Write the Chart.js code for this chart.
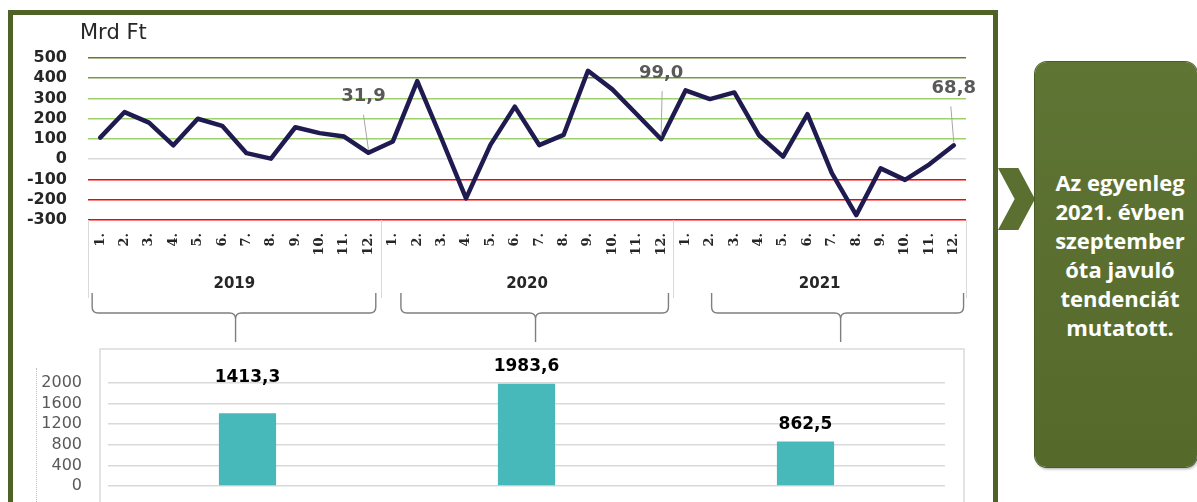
<!DOCTYPE html>
<html lang="hu">
<head>
<meta charset="utf-8">
<script src="https://cdn.jsdelivr.net/npm/chart.js@4.4.1/dist/chart.umd.min.js"></script>
<style>
    html, body { margin: 0; padding: 0; background: #fff; }
    body { width: 1197px; height: 502px; position: relative; overflow: hidden; font-family: 'DejaVu Sans', sans-serif; }
    #frame { position: absolute; left: 8px; top: 10px; width: 980px; height: 520px; border: 5px solid #4F6228; }
    #barBox { position: absolute; left: 99px; top: 348px; width: 862px; height: 200px; border: 2px solid #E3E3E3; }
    #barAxisLine { position: absolute; left: 36px; top: 368px; height: 140px; border-left: 1px dotted #BFBFBF; }
    #monthly { position: absolute; left: 14px; top: 15px; }
    #yearly { position: absolute; left: 14px; top: 345px; }
    #chevron { position: absolute; left: 998px; top: 168px; width: 37px; height: 62px; background: #5B6F30;
        clip-path: polygon(0 0, 55% 0, 100% 50%, 55% 100%, 0 100%, 45% 50%); }
    #note { position: absolute; left: 1035px; top: 62px; width: 162px; height: 405px; border-radius: 12px;
        background: linear-gradient(#5F7534, #55692B); box-shadow: 0 0 0 1px #4A5C25, 1px 2px 3px rgba(0,0,0,0.35); }
    #noteText { position: absolute; left: 1035px; top: 168px; width: 170px; text-align: center; color: #fff;
        font-family: 'Open Sans', sans-serif; font-weight: bold; font-size: 22px; line-height: 29px; }
</style>
</head>
<body>
<div id="frame"></div>
<div id="barBox"></div>
<div id="barAxisLine"></div>
<canvas id="monthly" width="975" height="330"></canvas>
<canvas id="yearly" width="975" height="157"></canvas>
<div id="chevron"></div>
<div id="note"></div>
<div id="noteText">Az egyenleg<br>2021. évben<br>szeptember<br>óta javuló<br>tendenciát<br>mutatott.</div>

<script>
// Data
const months = ['1.', '2.', '3.', '4.', '5.', '6.', '7.', '8.', '9.', '10.', '11.', '12.'];
const years = ['2019', '2020', '2021'];
const balance2019 = [107, 233, 181, 69, 200, 165, 30, 3, 158, 129, 112, 31.9];
const balance2020 = [88, 386, 100, -193, 71, 260, 70, 120, 437, 345, 222, 99.0];
const balance2021 = [340, 297, 330, 120, 13, 223, -69, -276, -45, -102, -25, 68.8];
const yearTotals = [1413.3, 1983.6, 862.5];
const calloutIndexes = [11, 23, 35];

const monthLabels = years.flatMap(() => months);
const balance = [...balance2019, ...balance2020, ...balance2021];

const fmt = v => v.toFixed(1).replace('.', ',');

// Year groups, braces, title and callouts under / on the monthly chart
const monthlyDecor = {
    id: 'monthlyDecor',
    afterDraw(chart, args, opts) {
        const { ctx, chartArea } = chart;
        const x = chart.scales.x;
        ctx.save();

        ctx.fillStyle = '#262626';
        ctx.font = '21px "DejaVu Sans"';
        ctx.textAlign = 'left';
        ctx.textBaseline = 'middle';
        ctx.fillText('Mrd Ft', 66, 19);

        // separators between years
        ctx.strokeStyle = '#D9D9D9';
        ctx.lineWidth = 1;
        for (let g = 0; g <= years.length; g++) {
            const px = Math.round(x.getPixelForValue(g * 12 - 0.5)) + 0.5;
            ctx.beginPath();
            ctx.moveTo(px, chartArea.bottom);
            ctx.lineTo(px, opts.sepBottom);
            ctx.stroke();
        }

        // year names
        ctx.fillStyle = '#262626';
        ctx.font = 'bold 15px "DejaVu Sans"';
        ctx.textAlign = 'center';
        years.forEach((yr, g) => ctx.fillText(yr, x.getPixelForValue(g * 12 + 5.5), opts.yearY));

        // braces
        ctx.strokeStyle = '#7F7F7F';
        ctx.lineWidth = 1.4;
        const r = 6;
        opts.braces.forEach(b => {
            const x1 = x.getPixelForValue(b.from);
            const x2 = x.getPixelForValue(b.to);
            const xm = x.getPixelForValue(b.tip);
            const { top, mid, tip } = opts.braceY;
            ctx.beginPath();
            ctx.moveTo(x1, top);
            ctx.lineTo(x1, mid - r);
            ctx.quadraticCurveTo(x1, mid, x1 + r, mid);
            ctx.lineTo(xm - r, mid);
            ctx.quadraticCurveTo(xm, mid, xm, mid + r);
            ctx.lineTo(xm, tip);
            ctx.moveTo(xm, mid + r);
            ctx.quadraticCurveTo(xm, mid, xm + r, mid);
            ctx.lineTo(x2 - r, mid);
            ctx.quadraticCurveTo(x2, mid, x2, mid - r);
            ctx.lineTo(x2, top);
            ctx.stroke();
        });

        // callouts with leader lines
        const pts = chart.getDatasetMeta(0).data;
        calloutIndexes.forEach((idx, i) => {
            const p = pts[idx];
            const o = opts.callouts[i];
            const tx = p.x + o.dx;
            const ty = p.y + o.dy;
            ctx.strokeStyle = '#A6A6A6';
            ctx.lineWidth = 1;
            ctx.beginPath();
            ctx.moveTo(tx + o.lx, ty + 18);
            ctx.lineTo(p.x, p.y - 3);
            ctx.stroke();
            ctx.fillStyle = '#595959';
            ctx.font = 'bold 18px "DejaVu Sans"';
            ctx.textAlign = 'center';
            ctx.textBaseline = 'middle';
            ctx.fillText(fmt(balance[idx]), tx, ty);
        });

        ctx.restore();
    }
};

function gridColor(ctx) {
    const v = ctx.tick.value;
    if (v < 0) return '#FF0000';
    if (v === 0) return '#D9D9D9';
    if (v === 500) return '#5E7A2E';
    if (v === 400) return '#7A9A45';
    return '#9ED070';
}

new Chart(document.getElementById('monthly'), {
    type: 'line',
    data: {
        labels: monthLabels,
        datasets: [{
            data: balance,
            borderColor: '#1F1A4F',
            borderWidth: 4.5,
            pointRadius: 0,
            tension: 0,
            borderJoinStyle: 'round',
            borderCapStyle: 'round',
            clip: false
        }]
    },
    options: {
        responsive: false,
        animation: false,
        layout: { padding: { top: 43, right: 23, left: 0, bottom: 0 } },
        plugins: {
            legend: { display: false },
            tooltip: { enabled: false },
            monthlyDecor: {
                sepBottom: 283,
                yearY: 269,
                braceY: { top: 278, mid: 298, tip: 327 },
                braces: [
                    { from: -0.33, to: 11.3, tip: 5.55 },
                    { from: 12.33, to: 23.3, tip: 17.85 },
                    { from: 25.07, to: 35.4, tip: 30.36 }
                ],
                callouts: [
                    { dx: -5, dy: -56, lx: 0 },
                    { dx: 0, dy: -66, lx: 1 },
                    { dx: 0, dy: -57, lx: -3 }
                ]
            }
        },
        scales: {
            x: {
                offset: true,
                grid: { display: false, drawTicks: false },
                border: { display: false },
                ticks: {
                    autoSkip: false,
                    minRotation: 90,
                    maxRotation: 90,
                    padding: 13,
                    color: '#262626',
                    font: { family: 'DejaVu Serif', weight: 'bold', size: 13 }
                },
                afterFit: s => { s.height = 125; }
            },
            y: {
                min: -300,
                max: 500,
                ticks: {
                    stepSize: 100,
                    autoSkip: false,
                    padding: 21,
                    color: '#262626',
                    font: { family: 'DejaVu Sans', weight: 'bold', size: 16 }
                },
                grid: { color: gridColor, lineWidth: 1.6, drawTicks: false },
                border: { display: false },
                afterFit: s => { s.width = 74; }
            }
        }
    },
    plugins: [monthlyDecor]
});

// Value labels above the yearly bars
const barLabels = {
    id: 'barLabels',
    afterDatasetsDraw(chart, args, opts) {
        const { ctx } = chart;
        ctx.save();
        ctx.fillStyle = '#000';
        ctx.font = 'bold 17px "DejaVu Sans"';
        ctx.textAlign = 'center';
        ctx.textBaseline = 'middle';
        chart.getDatasetMeta(0).data.forEach((bar, i) => {
            ctx.fillText(fmt(yearTotals[i]), bar.x, bar.y - opts.lift[i]);
        });
        ctx.restore();
    }
};

new Chart(document.getElementById('yearly'), {
    type: 'bar',
    data: {
        labels: years,
        datasets: [{
            data: yearTotals,
            backgroundColor: '#47B9BA',
            barPercentage: 0.205,
            categoryPercentage: 1
        }]
    },
    options: {
        responsive: false,
        animation: false,
        layout: { padding: { top: 38, right: 44, bottom: 0, left: 0 } },
        plugins: {
            legend: { display: false },
            tooltip: { enabled: false },
            barLabels: { lift: [36, 17, 17] }
        },
        scales: {
            x: {
                grid: { display: false, drawTicks: false },
                border: { display: false },
                ticks: { display: false },
                afterFit: s => { s.height = 16; }
            },
            y: {
                min: 0,
                max: 2000,
                ticks: {
                    stepSize: 400,
                    autoSkip: false,
                    padding: 26,
                    color: '#595959',
                    font: { family: 'DejaVu Sans', size: 16 },
                    callback: v => String(v)
                },
                grid: { color: '#D9D9D9', lineWidth: 1.5, drawTicks: false },
                border: { display: false },
                afterFit: s => {
                    s.width = 94;
                    s.paddingTop = 0;
                    s.paddingBottom = 0;
                }
            }
        }
    },
    plugins: [barLabels]
});
</script>
</body>
</html>
